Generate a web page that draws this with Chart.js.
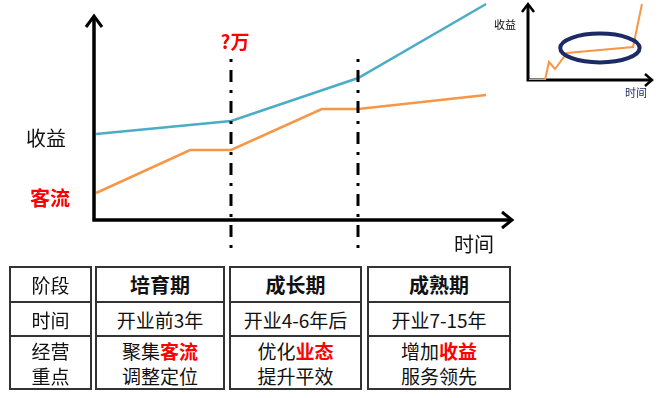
<!DOCTYPE html>
<html lang="zh">
<head>
<meta charset="UTF-8">
<title>商业项目发展阶段</title>
<script src="https://cdn.jsdelivr.net/npm/chart.js"></script>
<style>
  body { margin:0; width:672px; height:398px; background:#fff; position:relative; overflow:hidden;
         font-family:"Noto Sans CJK SC", "Noto Sans", sans-serif; color:#111; }
  canvas { position:absolute; }
  #mainChart { left:0; top:0; }
  #miniChart { left:500px; top:0; }
  .lbl { position:absolute; white-space:nowrap; transform:translate(-50%,-50%); line-height:1; }
  .red { color:#f00; font-weight:bold; }
  .box { position:absolute; top:266px; box-sizing:border-box; height:124px; border:2px solid #333; }
  .row { display:flex; align-items:center; justify-content:center; text-align:center; font-size:19px; line-height:25px; }
  .r1 { height:33px; border-bottom:2px solid #333; }
  .r2 { height:32px; border-bottom:2px solid #333; }
  .r3 { height:51px; }
  .head { font-weight:bold; font-size:20px; }
</style>
</head>
<body>
<canvas id="mainChart" width="520" height="260"></canvas>
<canvas id="miniChart" width="172" height="110"></canvas>

<div class="lbl red" style="left:235px;top:40px;font-size:19px;">?万</div>
<div class="lbl" style="left:46px;top:138px;font-size:20px;">收益</div>
<div class="lbl red" style="left:50px;top:198px;font-size:20px;">客流</div>
<div class="lbl" style="left:474px;top:244px;font-size:20px;">时间</div>
<div class="lbl" style="left:505px;top:24px;font-size:11px;">收益</div>
<div class="lbl" style="left:636px;top:92px;font-size:11px;color:#1f2a5c;">时间</div>

<div id="table"></div>

<script>
    // main chart: x in relative time units (0-100), y in relative value units (0-110)
    const revenueX = [0.5, 32.8, 63.2, 93.8];
    const revenueY = [43, 49.5, 71, 108];
    const trafficX = [0.5, 23, 32.8, 54.5, 63.2, 93.8];
    const trafficY = [13.5, 35, 35, 55.5, 55.5, 62.5];
    const stageBounds = [32.8, 63.2];

    // inset chart
    const insetX = [0.8, 13.7, 16.9, 21.8, 31.4, 84.7, 91.9];
    const insetY = [0, 0, 22.5, 13.75, 33.75, 41.25, 95];
    const insetRing = { x: 58, y: 40, rx: 32, ry: 18 };

    // table
    const rowLabels = ['阶段', '时间', '经营<br>重点'];
    const stages = ['培育期', '成长期', '成熟期'];
    const stageTimes = ['开业前3年', '开业4-6年后', '开业7-15年'];
    const focusPlain = ['聚集', '优化', '增加'];
    const focusKey = ['客流', '业态', '收益'];
    const focusSecond = ['调整定位', '提升平效', '服务领先'];

    const toPoints = (xs, ys) => xs.map((x, i) => ({ x: x, y: ys[i] }));

    function arrowHead(ctx, tipX, tipY, dirX, dirY, len, half) {
        // chevron pointing in direction (dirX, dirY)
        const bx = tipX - dirX * len, by = tipY - dirY * len;
        ctx.beginPath();
        ctx.moveTo(bx - dirY * half, by + dirX * half);
        ctx.lineTo(tipX, tipY);
        ctx.lineTo(bx + dirY * half, by - dirX * half);
        ctx.stroke();
    }

    const mainDecor = {
        id: 'mainDecor',
        afterDatasetsDraw(chart, args, opts) {
            const { ctx, scales: { x, y } } = chart;
            const ox = x.getPixelForValue(0), oy = y.getPixelForValue(0);
            const topY = y.getPixelForValue(opts.yTop);
            const endX = x.getPixelForValue(opts.xEnd);
            ctx.save();
            ctx.strokeStyle = '#000';
            ctx.lineWidth = 3.5;
            ctx.lineJoin = 'miter';
            ctx.beginPath();
            ctx.moveTo(ox, topY + 1);
            ctx.lineTo(ox, oy);
            ctx.lineTo(endX - 1, oy);
            ctx.stroke();
            ctx.lineWidth = 3;
            arrowHead(ctx, ox, topY, 0, -1, 11, 8);
            arrowHead(ctx, endX, oy, 1, 0, 10, 8);

            // stage boundaries (dash-dot)
            ctx.lineWidth = 3;
            ctx.setLineDash([3, 8, 12, 8]);
            stageBounds.forEach(b => {
                const px = Math.round(x.getPixelForValue(b));
                ctx.beginPath();
                ctx.moveTo(px, y.getPixelForValue(opts.dashTop));
                ctx.lineTo(px, y.getPixelForValue(opts.dashBottom));
                ctx.stroke();
            });
            ctx.restore();
        }
    };

    new Chart(document.getElementById('mainChart'), {
        type: 'line',
        data: {
            datasets: [
                { label: '收益', data: toPoints(revenueX, revenueY), borderColor: '#4BACC6', borderWidth: 2.5 },
                { label: '客流', data: toPoints(trafficX, trafficY), borderColor: '#F79646', borderWidth: 2.5 }
            ]
        },
        options: {
            responsive: false,
            animation: false,
            layout: { padding: { left: 94, right: 8, top: 0, bottom: 40 } },
            elements: { point: { radius: 0 }, line: { tension: 0 } },
            scales: {
                x: { type: 'linear', min: 0, max: 100, display: false },
                y: { min: 0, max: 110, display: false }
            },
            plugins: {
                legend: { display: false },
                tooltip: { enabled: false },
                mainDecor: { yTop: 102, xEnd: 100, dashTop: 80.5, dashBottom: -15 }
            }
        },
        plugins: [mainDecor]
    });

    const insetDecor = {
        id: 'insetDecor',
        beforeDatasetsDraw(chart) {
            const { ctx, scales: { x, y } } = chart;
            const ox = x.getPixelForValue(0), oy = y.getPixelForValue(0);
            const topY = y.getPixelForValue(95), endX = x.getPixelForValue(100);
            ctx.save();
            ctx.strokeStyle = '#000';
            ctx.lineWidth = 3;
            ctx.beginPath();
            ctx.moveTo(ox, topY + 1);
            ctx.lineTo(ox, oy);
            ctx.lineTo(endX - 1, oy);
            ctx.stroke();
            ctx.lineWidth = 2.5;
            arrowHead(ctx, ox, topY, 0, -1, 8, 6);
            arrowHead(ctx, endX, oy, 1, 0, 7, 6);
            ctx.restore();
        },
        afterDatasetsDraw(chart) {
            const { ctx, scales: { x, y } } = chart;
            const cx = x.getPixelForValue(insetRing.x), cy = y.getPixelForValue(insetRing.y);
            const rx = x.getPixelForValue(insetRing.x + insetRing.rx) - cx;
            const ry = cy - y.getPixelForValue(insetRing.y + insetRing.ry);
            ctx.save();
            ctx.strokeStyle = '#1C2A66';
            ctx.lineWidth = 4;
            ctx.beginPath();
            ctx.ellipse(cx, cy, rx, ry, 0, 0, Math.PI * 2);
            ctx.stroke();
            ctx.restore();
        }
    };

    new Chart(document.getElementById('miniChart'), {
        type: 'line',
        data: {
            datasets: [
                { label: '收益', data: toPoints(insetX, insetY), borderColor: '#F79646', borderWidth: 2 }
            ]
        },
        options: {
            responsive: false,
            animation: false,
            layout: { padding: { left: 28, right: 20, top: 0, bottom: 30 } },
            elements: { point: { radius: 0 }, line: { tension: 0 } },
            scales: {
                x: { type: 'linear', min: 0, max: 100, display: false },
                y: { min: 0, max: 100, display: false }
            },
            plugins: { legend: { display: false }, tooltip: { enabled: false } }
        },
        plugins: [insetDecor]
    });

    // stage table: one framed box per column
    const boxLeft = [9, 95, 229, 367];
    const boxWidth = [83, 130, 133, 144];
    const table = document.getElementById('table');
    const columns = [rowLabels].concat(stages.map((s, i) => [
        s,
        stageTimes[i],
        focusPlain[i] + '<span class="red">' + focusKey[i] + '</span><br>' + focusSecond[i]
    ]));
    columns.forEach((col, i) => {
        const box = document.createElement('div');
        box.className = 'box';
        box.style.left = boxLeft[i] + 'px';
        box.style.width = boxWidth[i] + 'px';
        box.innerHTML =
            '<div class="row r1' + (i > 0 ? ' head' : '') + '"><div>' + col[0] + '</div></div>' +
            '<div class="row r2"><div>' + col[1] + '</div></div>' +
            '<div class="row r3"><div>' + col[2] + '</div></div>';
        table.appendChild(box);
    });
</script>
</body>
</html>
